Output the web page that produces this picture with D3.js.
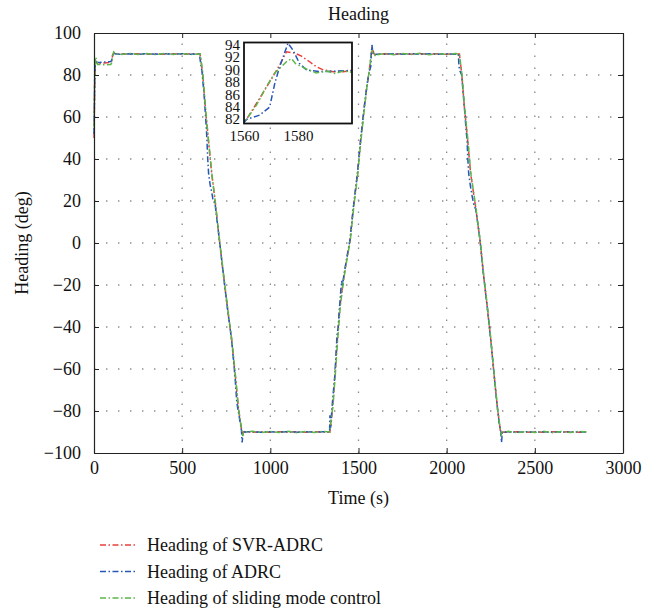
<!DOCTYPE html>
<html>
<head>
<meta charset="utf-8">
<script src="https://cdn.jsdelivr.net/npm/d3@7"></script>
<style>
body{margin:0;background:#fff;}
svg text{font-family:"Liberation Serif","DejaVu Serif","Times New Roman",serif;fill:#111;}
</style>
</head>
<body>
<svg width="645" height="615"></svg>
<script>
var xTicks = [0, 500, 1000, 1500, 2000, 2500, 3000];
var yTicks = [-100, -80, -60, -40, -20, 0, 20, 40, 60, 80, 100];
var insetXTicks = [1560, 1580];
var insetYTicks = [82, 84, 86, 88, 90, 92, 94];
var seriesNames = ["Heading of SVR-ADRC", "Heading of ADRC", "Heading of sliding mode control"];
var seriesColors = ["#e8413d", "#2457b8", "#5cb548"];

// heading of SVR-ADRC [time (s), heading (deg)]
var svrAdrc = [[0,50],[4,75],[8,87],[12,86],[20,85.5],[60,85.7],[95,86],[100,86.5],[106,89.5],[112,90.3],[130,90],
	[150,90.1],[200,89.9],[250,90.1],[300,89.9],[350,90.1],[400,89.9],[450,90.1],[500,89.9],[550,90.1],[601,90],
	[616,81],[631,65],[648,49.5],[667,33.5],[686,20.5],[711,1.5],[733,-14.5],[756,-30.5],[781,-46.5],[800,-62],[818,-78],[830,-85],[837,-89],[841,-91.5],[846,-90],
	[900,-90.1],[950,-89.9],[1000,-90.1],[1050,-89.9],[1100,-90.1],[1150,-89.9],[1200,-90.1],[1250,-89.9],[1300,-90.1],[1338,-90],
	[1341,-85],[1344,-87],[1353,-78],[1367,-62],[1380,-46],[1395,-30],[1414,-17.5],[1432,-8],[1452,1.5],[1471,17],[1494,33],[1512,49],[1533,65],[1548,75],
	[1560.9,82],[1565.8,85.4],[1570.7,88.9],[1573.9,91.3],[1575.7,92.9],[1578.8,92.7],[1581.3,92.2],[1584.3,91.3],[1586.8,90.5],[1589.3,90],[1593,89.7],[1596.7,89.7],[1600.4,89.9],
	[1650,90.1],[1700,89.9],[1750,90.1],[1800,89.9],[1850,90.1],[1900,89.9],[1950,90.1],[2000,89.9],[2050,90.1],[2072,90],
	[2085,81],[2100,65],[2119,49],[2136,33],[2161,19],[2189,1.5],[2208,-14.5],[2230,-30.5],[2250,-46],[2268,-62],[2287,-78],[2298,-85],[2304,-89],[2309,-91.5],[2316,-90],
	[2350,-90.1],[2400,-89.9],[2450,-90.1],[2500,-89.9],[2550,-90.1],[2600,-89.9],[2650,-90.1],[2700,-89.9],[2750,-90.1],[2800,-90]];

// heading of ADRC
var adrc = [[0,52],[4,78],[8,87],[14,86],[30,86],[70,86.2],[95,86.4],[100,87],[107,90],[112,90.2],[130,90],
	[150,89.9],[200,90.1],[250,89.9],[300,90.1],[350,89.9],[400,90.1],[450,89.9],[500,90.1],[550,89.9],[598,90],
	[604,86],[612,82],[625,70],[636,56],[640,50],[645,40],[650,33],[658,28],[668,24],[676,20],[686,19],[711,1.5],[733,-14.5],[756,-30.5],[781,-46.5],[800,-64],[810,-76],[818,-80],[830,-86],[836,-89],[840,-95],[846,-90],
	[900,-89.9],[950,-90.1],[1000,-89.9],[1050,-90.1],[1100,-89.9],[1150,-90.1],[1200,-89.9],[1250,-90.1],[1300,-89.9],[1336,-90],
	[1338,-82],[1342,-88],[1350,-78],[1367,-62],[1378,-44],[1385,-40],[1390,-33],[1395,-28],[1400,-22],[1405,-18],[1410,-21],[1416,-16],[1432,-8],[1452,1.5],[1471,17],[1494,33],[1512,49],[1533,65],[1548,75],
	[1560.9,82],[1565.8,82.7],[1569.5,84],[1571.4,87.8],[1573.2,90.5],[1576.3,94.3],[1578.1,93.2],[1580.6,91],[1583.1,90],[1588,89.7],[1594.2,89.8],[1600.4,89.9],
	[1650,89.9],[1700,90.1],[1750,89.9],[1800,90.1],[1850,89.9],[1900,90.1],[1950,89.9],[2000,90.1],[2050,89.9],[2066,90],
	[2070,84],[2075,82],[2085,80],[2100,65],[2112,52],[2115,50],[2120,40],[2125,33],[2135,27],[2145,22],[2155,18],[2165,16],[2189,1.5],[2208,-14.5],[2230,-30.5],[2250,-46],[2268,-62],[2287,-78],[2298,-86],[2306,-89],[2311,-95],[2316,-90],
	[2350,-89.9],[2400,-90.1],[2450,-89.9],[2500,-90.1],[2550,-89.9],[2600,-90.1],[2650,-89.9],[2700,-90.1],[2750,-89.9],[2800,-90]];

// heading of sliding mode control
var smc = [[0,55],[4,80],[8,88.5],[14,87.5],[20,85],[60,84.9],[95,85],[102,86],[108,90],[112,91],[120,90.2],
	[150,89.7],[200,90.3],[250,89.8],[300,90.2],[350,89.7],[400,90.3],[450,89.8],[500,90.2],[550,89.8],[603,90],
	[618,80],[633,64],[650,48.5],[669,32.5],[688,19.5],[713,0.5],[735,-15],[758,-31],[783,-47],[802,-63],[820,-79],[832,-86],[839,-89.5],[843,-92],[848,-90],
	[900,-89.7],[950,-90.3],[1000,-89.8],[1050,-90.2],[1100,-89.7],[1150,-90.3],[1200,-89.8],[1250,-90.2],[1300,-89.7],[1338,-90],
	[1340,-87],[1346,-83],[1355,-78],[1369,-62],[1382,-46],[1397,-30],[1416,-17.5],[1434,-8],[1454,1.5],[1473,17],[1496,33],[1514,49],[1535,65],[1549,75],
	[1560.9,82],[1564.6,84.3],[1568.3,87.3],[1571.4,89.5],[1573.9,90.5],[1575.7,91.3],[1577.6,91.8],[1579.1,91],[1581.3,90.5],[1583.7,90],[1586.8,89.5],[1590.5,89.8],[1593.6,89.4],[1596.7,89.8],[1600.4,89.6],
	[1650,90.3],[1700,89.7],[1750,90.2],[1800,89.8],[1850,90.3],[1900,89.7],[1950,90.2],[2000,89.8],[2050,90.2],[2072,90],
	[2087,80],[2102,64],[2121,48.5],[2138,32.5],[2163,18.5],[2191,0.5],[2210,-15],[2232,-31],[2252,-47],[2270,-63],[2289,-79],[2300,-86],[2306,-89.5],[2311,-92],[2318,-90],
	[2350,-89.7],[2400,-90.3],[2450,-89.8],[2500,-90.2],[2550,-89.7],[2600,-90.3],[2650,-89.8],[2700,-90.2],[2750,-89.7],[2800,-90]];

var allSeries = [svrAdrc, adrc, smc];
var serif = "Liberation Serif, DejaVu Serif, serif";

var m = {left:94, right:623, top:33, bottom:453};
var svg = d3.select("svg");

var x = d3.scaleLinear().domain([0, 3000]).range([m.left, m.right]);
var y = d3.scaleLinear().domain([-100, 100]).range([m.bottom, m.top]);

// dotted grid
var grid = svg.append("g").attr("stroke", "#8a8a8a").attr("stroke-width", 1.3).attr("stroke-dasharray", "1.4,10.6");
grid.selectAll(".gx").data(xTicks.slice(1, -1)).enter().append("line")
	.attr("x1", d=>x(d)).attr("x2", d=>x(d)).attr("y1", m.bottom).attr("y2", m.top);
grid.selectAll(".gy").data(yTicks.slice(1, -1)).enter().append("line")
	.attr("x1", m.left).attr("x2", m.right).attr("y1", d=>y(d)).attr("y2", d=>y(d));

// data lines
var line = d3.line().x(d=>x(d[0])).y(d=>y(d[1]));
var lines = svg.append("g");
allSeries.forEach(function(s, i){
	lines.append("path").attr("d", line(s))
		.attr("fill", "none").attr("stroke", seriesColors[i])
		.attr("stroke-width", 1.5).attr("stroke-dasharray", "6,2.5,1.5,2.5");
});

// axes with inward ticks
var fmt = d=>d < 0 ? "\u2212" + Math.abs(d) : String(d);
var xAxis = d3.axisBottom(x).tickValues(xTicks).tickSizeInner(-5).tickSizeOuter(0).tickPadding(8).tickFormat(fmt);
var yAxis = d3.axisLeft(y).tickValues(yTicks).tickSizeInner(-5).tickSizeOuter(0).tickPadding(13).tickFormat(fmt);
var gx = svg.append("g").attr("transform", "translate(0," + m.bottom + ")").call(xAxis);
var gy = svg.append("g").attr("transform", "translate(" + m.left + ",0)").call(yAxis);
var gxTop = svg.append("g").attr("transform", "translate(0," + m.top + ")")
	.call(d3.axisTop(x).tickValues(xTicks).tickSizeInner(-5).tickSizeOuter(0).tickFormat(""));
var gyRight = svg.append("g").attr("transform", "translate(" + m.right + ",0)")
	.call(d3.axisRight(y).tickValues(yTicks).tickSizeInner(-5).tickSizeOuter(0).tickFormat(""));
[gx, gy, gxTop, gyRight].forEach(function(g){
	g.attr("font-family", serif);
	g.select(".domain").attr("stroke", "#222").attr("stroke-width", 1.2);
	g.selectAll(".tick line").attr("stroke", "#222");
	g.selectAll(".tick text").attr("font-size", 18).attr("fill", "#111");
});

svg.append("text").attr("x", (m.left + m.right) / 2).attr("y", 20)
	.attr("text-anchor", "middle").attr("font-size", 18).text("Heading");
svg.append("text").attr("x", (m.left + m.right) / 2).attr("y", 504)
	.attr("text-anchor", "middle").attr("font-size", 18).text("Time (s)");
svg.append("text").attr("transform", "translate(28," + ((m.top + m.bottom) / 2) + ") rotate(-90)")
	.attr("text-anchor", "middle").attr("font-size", 18).text("Heading (deg)");

// inset zoom near 1580 s
var ix = d3.scaleLinear().domain([1560, 1600]).range([244, 352]);
var iy = d3.scaleLinear().domain([81.35, 94.4]).range([123.5, 42.5]);
var inset = svg.append("g");
inset.append("rect").attr("x", 244).attr("y", 42.5).attr("width", 108).attr("height", 81)
	.attr("fill", "#fff");
inset.append("clipPath").attr("id", "insetClip").append("rect")
	.attr("x", 244).attr("y", 42.5).attr("width", 108).attr("height", 81);
var iline = d3.line().x(d=>ix(d[0])).y(d=>iy(d[1]));
allSeries.forEach(function(s, i){
	inset.append("path").attr("d", iline(s)).attr("clip-path", "url(#insetClip)")
		.attr("fill", "none").attr("stroke", seriesColors[i])
		.attr("stroke-width", 1.5).attr("stroke-dasharray", "6,2.5,1.5,2.5");
});
inset.append("rect").attr("x", 244).attr("y", 42.5).attr("width", 108).attr("height", 81)
	.attr("fill", "none").attr("stroke", "#111").attr("stroke-width", 1.8);
var igx = inset.append("g").attr("transform", "translate(0,123.5)")
	.call(d3.axisBottom(ix).tickValues(insetXTicks).tickSize(0).tickPadding(7).tickFormat(fmt));
var igy = inset.append("g").attr("transform", "translate(243,0)")
	.call(d3.axisLeft(iy).tickValues(insetYTicks).tickSize(0).tickPadding(3).tickFormat(fmt));
[igx, igy].forEach(function(g){
	g.attr("font-family", serif);
	g.select(".domain").remove();
	g.selectAll(".tick text").attr("font-size", 15).attr("fill", "#111");
});
igy.selectAll(".tick text").attr("dy", "0.3em");

// legend
var legend = svg.append("g");
seriesNames.forEach(function(name, i){
	var ly = 545 + i * 26.5;
	legend.append("line").attr("x1", 100).attr("x2", 135).attr("y1", ly).attr("y2", ly)
		.attr("stroke", seriesColors[i]).attr("stroke-width", 1.4).attr("stroke-dasharray", "6,2.5,1.5,2.5");
	legend.append("text").attr("x", 147).attr("y", ly + 6).attr("font-size", 18).text(name);
});
</script>
</body>
</html>
